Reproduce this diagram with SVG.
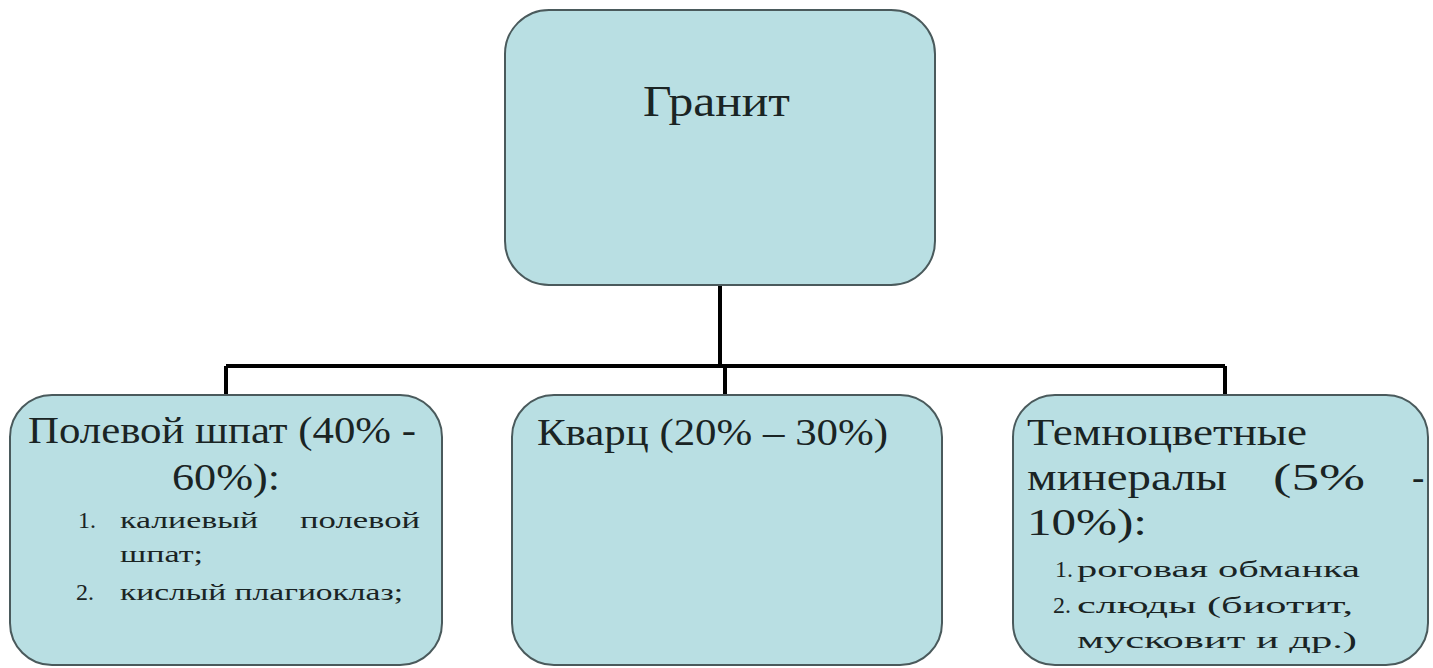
<svg xmlns="http://www.w3.org/2000/svg" width="1433" height="668" viewBox="0 0 1433 668">
  <style>
    .box { fill: #b9dfe3; stroke: #4a5a5c; stroke-width: 2; }
    .t { fill: #1a2424; }
    .big { font-size: 37px; }
    .small { font-size: 24px; }
    .link { stroke: #000; stroke-width: 4; fill: none; }
  </style>
  <rect width="1433" height="668" fill="#ffffff"/>

  <!-- tree connectors -->
  <g id="connectors">
    <path class="link" d="M720 285 V366"/>
    <path class="link" d="M226 366 H1225"/>
    <path class="link" d="M226 366 V395"/>
    <path class="link" d="M725 366 V395"/>
    <path class="link" d="M1225 366 V395"/>
  </g>

  <g font-family="Liberation Serif, DejaVu Serif, serif">
  <!-- root: granite -->
  <g id="granite">
    <rect class="box" x="505" y="10" width="430" height="275" rx="44" ry="44"/>
    <text class="t" x="643" y="116" font-size="45" textLength="147" lengthAdjust="spacingAndGlyphs">Гранит</text>
  </g>

  <!-- feldspar -->
  <g id="feldspar">
    <rect class="box" x="10" y="395" width="432" height="270" rx="42" ry="42"/>
    <text class="t big" x="28" y="443" textLength="388" lengthAdjust="spacingAndGlyphs">Полевой шпат (40% -</text>
    <text class="t big" x="172" y="490" textLength="108" lengthAdjust="spacingAndGlyphs">60%):</text>
    <text class="t small" x="78" y="528">1.</text>
    <text class="t small" x="120" y="528" textLength="138" lengthAdjust="spacingAndGlyphs">калиевый</text>
    <text class="t small" x="300" y="528" textLength="120" lengthAdjust="spacingAndGlyphs">полевой</text>
    <text class="t small" x="120" y="562" textLength="83" lengthAdjust="spacingAndGlyphs">шпат;</text>
    <text class="t small" x="76" y="600">2.</text>
    <text class="t small" x="120" y="600" textLength="283" lengthAdjust="spacingAndGlyphs">кислый плагиоклаз;</text>
  </g>

  <!-- quartz -->
  <g id="quartz">
    <rect class="box" x="512" y="395" width="430" height="270" rx="42" ry="42"/>
    <text class="t big" x="537" y="445" textLength="351" lengthAdjust="spacingAndGlyphs">Кварц (20% – 30%)</text>
  </g>

  <!-- dark minerals -->
  <g id="dark-minerals">
    <rect class="box" x="1013" y="395" width="415" height="270" rx="42" ry="42"/>
    <text class="t big" x="1027" y="445" textLength="280" lengthAdjust="spacingAndGlyphs">Темноцветные</text>
    <text class="t big" x="1027" y="490" textLength="200" lengthAdjust="spacingAndGlyphs">минералы</text>
    <text class="t big" x="1273" y="490" textLength="92" lengthAdjust="spacingAndGlyphs">(5%</text>
    <text class="t big" x="1412" y="490">-</text>
    <text class="t big" x="1027" y="535" textLength="120" lengthAdjust="spacingAndGlyphs">10%):</text>
    <text class="t small" x="1055" y="577">1.</text>
    <text class="t small" x="1077" y="577" textLength="283" lengthAdjust="spacingAndGlyphs">роговая обманка</text>
    <text class="t small" x="1053" y="613">2.</text>
    <text class="t small" x="1077" y="613" textLength="276" lengthAdjust="spacingAndGlyphs">слюды (биотит,</text>
    <text class="t small" x="1077" y="648" textLength="280" lengthAdjust="spacingAndGlyphs">мусковит и др.)</text>
  </g>
  </g>
</svg>
